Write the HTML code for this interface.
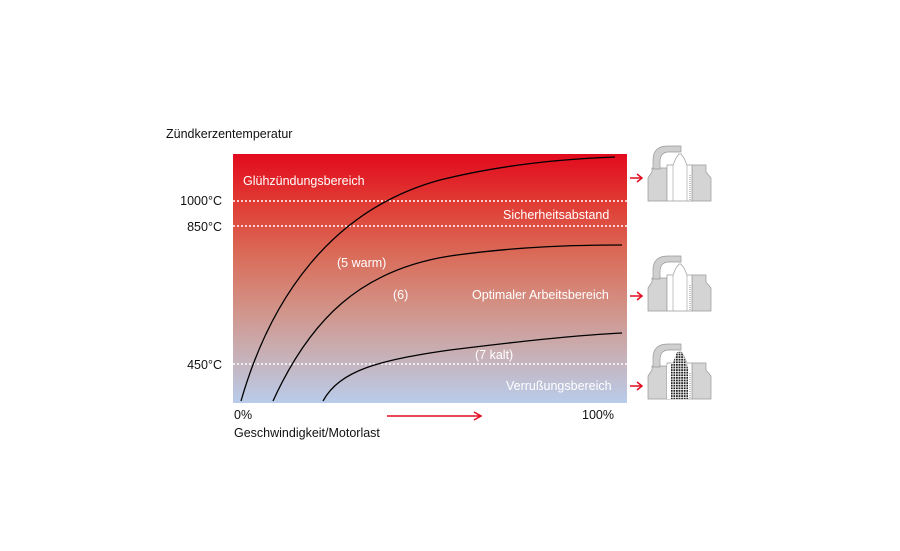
<!DOCTYPE html>
<html><head><meta charset="utf-8"><style>
body{margin:0;background:#fff}
svg{display:block;font-family:"Liberation Sans",sans-serif}
</style></head><body>
<svg width="900" height="551" viewBox="0 0 900 551">
<defs>
<linearGradient id="g" x1="0" y1="0" x2="0" y2="1">
<stop offset="0" stop-color="#e20a1e"/>
<stop offset="0.2" stop-color="#e03c34"/>
<stop offset="0.4" stop-color="#da6a58"/>
<stop offset="0.6" stop-color="#d38f83"/>
<stop offset="0.8" stop-color="#c8afb4"/>
<stop offset="1" stop-color="#b9cceb"/>
</linearGradient>
<g id="plug">
<path d="M648 178 L652 172 L652 168 L667 168 L667 201 L648 201 Z" fill="#d4d4d4" stroke="#999" stroke-width="0.7"/>
<path d="M692 165 L706 165 L706 172 L711 178 L711 201 L692 201 Z" fill="#d4d4d4" stroke="#999" stroke-width="0.7"/>
<path d="M653 169 L653 160 Q653 146 668 146 L681 146 L681 152 L669 152 Q660 152 660 162 L660 169 Z" fill="#cfcfcf" stroke="#999" stroke-width="0.7"/>
<path d="M667 201 L667 165 L673 165 L676 158 L679 154 L681 154 L684 158 L687 165 L692 165 L692 201 Z" fill="#fff" stroke="#999" stroke-width="0.7"/>
<line x1="673" y1="165" x2="673" y2="201" stroke="#aaa" stroke-width="0.7"/>
<line x1="687" y1="165" x2="687" y2="201" stroke="#aaa" stroke-width="0.7"/>
<line x1="690" y1="175" x2="690" y2="200" stroke="#555" stroke-width="0.7" stroke-dasharray="1 1"/>
</g>
<pattern id="soot" width="2.6" height="2.6" patternUnits="userSpaceOnUse"><rect width="2.6" height="2.6" fill="#fff"/><rect width="1.8" height="1.8" fill="#222"/></pattern>
</defs>
<text x="166" y="138" font-size="12.5" fill="#111">Zündkerzentemperatur</text>
<rect x="233" y="154" width="394" height="249" fill="url(#g)"/>
<g stroke="#fff" stroke-width="1.5" stroke-dasharray="2 2">
<line x1="233" y1="201" x2="627" y2="201"/>
<line x1="233" y1="226" x2="627" y2="226"/>
<line x1="233" y1="364" x2="627" y2="364"/>
</g>
<g font-size="12.5" fill="#111" text-anchor="end">
<text x="222" y="205">1000°C</text>
<text x="222" y="231">850°C</text>
<text x="222" y="369">450°C</text>
</g>
<g font-size="12.5" fill="#fff">
<text x="243" y="185">Glühzündungsbereich</text>
<text x="503" y="219">Sicherheitsabstand</text>
<text x="337" y="267">(5 warm)</text>
<text x="393" y="299">(6)</text>
<text x="472" y="299">Optimaler Arbeitsbereich</text>
<text x="475" y="359">(7 kalt)</text>
<text x="506" y="390">Verrußungsbereich</text>
</g>
<g fill="none" stroke="#000" stroke-width="1.3">
<path d="M241 401 C270 300 330 210 440 180 C500 165 560 159 615 157"/>
<path d="M273 401 C310 320 360 270 450 256 C520 246 580 245 622 245"/>
<path d="M323 401 C340 370 380 360 450 350 C530 340 580 335 622 333"/>
</g>
<text x="234" y="419" font-size="12.5" fill="#111">0%</text>
<text x="582" y="419" font-size="12.5" fill="#111">100%</text>
<text x="234" y="437" font-size="12.5" fill="#111">Geschwindigkeit/Motorlast</text>
<g stroke="#e20a1e" stroke-width="1.5" fill="none">
<line x1="387" y1="416" x2="480" y2="416"/><path d="M474 412 L481 416 L474 420"/>
<line x1="630" y1="178" x2="641" y2="178"/><path d="M637 174 L642 178 L637 182"/>
<line x1="630" y1="296" x2="641" y2="296"/><path d="M637 292 L642 296 L637 300"/>
<line x1="630" y1="386" x2="641" y2="386"/><path d="M637 382 L642 386 L637 390"/>
</g>
<use href="#plug"/>
<use href="#plug" y="110"/>
<use href="#plug" y="198"/>
<path d="M667 399 L667 365 L673 365 L676 358 L679 352 L681 352 L684 358 L687 365 L688 399 Z" fill="#fff"/>
<path d="M671 399 L671 365 L674 360 L677 352 L682 352 L685 360 L688 368 L688 399 Z" fill="url(#soot)"/>
</svg>
</body></html>
